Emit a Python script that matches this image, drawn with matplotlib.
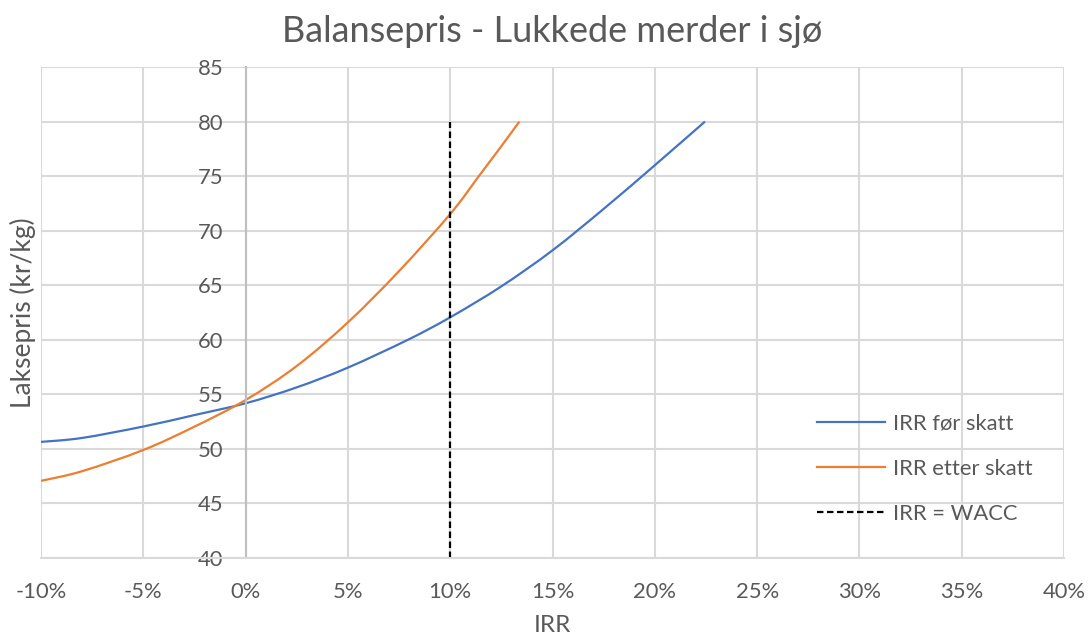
import matplotlib.pyplot as plt
import numpy as np
from matplotlib.path import Path
from matplotlib.patches import PathPatch
from matplotlib.lines import Line2D
from matplotlib.ticker import FuncFormatter

plt.rcParams['font.family'] = ['Lato', 'DejaVu Sans']

# IRR (%) og balansepris (kr/kg), lest av figuren
irr_for = [-10, -8, -5, -2.5, 0, 2.5, 5, 7.93, 10, 12.5, 15, 17.5, 20, 22.45]
pris_for = [50.64, 51.0, 52.05, 53.1, 54.18, 55.64, 57.45, 60.0, 62.06, 64.9, 68.2, 72.0, 76.0, 80.0]

irr_etter = [-10, -8, -5, -2.5, 0, 2.5, 5, 7.5, 10, 11.4, 12.5, 13.38]
pris_etter = [47.07, 47.95, 49.9, 52.04, 54.48, 57.6, 61.6, 66.3, 71.53, 75.0, 77.75, 80.0]

wacc = 10
wacc_pris = [40, 80]

x_ticks = list(range(-10, 45, 5))
y_ticks = list(range(40, 90, 5))

txt = '#595959'
grid = '#d9d9d9'
blue = '#4472C4'
orange = '#ED7D31'


def smooth_path(x, y):
    # glatt linje som i Excel (Catmull-Rom -> Bezier)
    p = np.column_stack([x, y]).astype(float)
    verts = [p[0]]
    codes = [Path.MOVETO]
    n = len(p)
    for i in range(n - 1):
        p0 = p[i - 1] if i > 0 else p[i]
        p3 = p[i + 2] if i + 2 < n else p[i + 1]
        c1 = p[i] + (p[i + 1] - p0) / 6
        c2 = p[i + 1] - (p3 - p[i]) / 6
        verts += [c1, c2, p[i + 1]]
        codes += [Path.CURVE4] * 3
    return Path(verts, codes)


fig = plt.figure(figsize=(10.91, 6.39), dpi=100)
ax = fig.add_axes([0.0376, 0.1268, 0.9377, 0.7683])

ax.add_patch(PathPatch(smooth_path(irr_for, pris_for), fill=False, ec=blue, lw=1.6))
ax.add_patch(PathPatch(smooth_path(irr_etter, pris_etter), fill=False, ec=orange, lw=1.6))
dash = (0, (2.9, 1.6))
ax.plot([wacc, wacc], wacc_pris, color='black', lw=1.6, ls=dash)

ax.set_xlim(-10, 40)
ax.set_ylim(40, 85)
ax.set_xticks(x_ticks)
ax.set_yticks(y_ticks)
ax.xaxis.set_major_formatter(FuncFormatter(lambda v, p: f'{v:.0f}%'))
ax.grid(True, color=grid, lw=1.5)
ax.set_axisbelow(True)

for s in ['top', 'right']:
    ax.spines[s].set_visible(False)
ax.spines['bottom'].set_color(grid)
ax.spines['bottom'].set_linewidth(1.5)
ax.spines['left'].set_position(('data', 0))
ax.spines['left'].set_color('#bfbfbf')
ax.spines['left'].set_linewidth(1.5)

ax.tick_params(axis='both', length=0, labelsize=15.8, colors=txt)
ax.tick_params(axis='x', pad=17)
ax.tick_params(axis='y', pad=16)

ax.set_title('Balansepris - Lukkede merder i sjø', fontsize=26, color=txt, pad=18)
ax.set_xlabel('IRR', fontsize=17.5, color=txt, labelpad=10)
fig.text(0.021, 0.51, 'Laksepris (kr/kg)', rotation=90, ha='center', va='center',
         fontsize=19, color=txt)

handles = [Line2D([], [], color=blue, lw=1.6),
           Line2D([], [], color=orange, lw=1.6),
           Line2D([], [], color='black', lw=1.6, ls=dash)]
labels = ['IRR før skatt', 'IRR etter skatt', 'IRR = WACC']
ax.legend(handles, labels, loc='upper left', bbox_to_anchor=(0.750, 0.312),
          borderaxespad=0, frameon=False, fontsize=15.8, labelcolor=txt,
          handlelength=3.1, handletextpad=0.36, labelspacing=1.15)

fig.savefig('out.png', dpi=100)
